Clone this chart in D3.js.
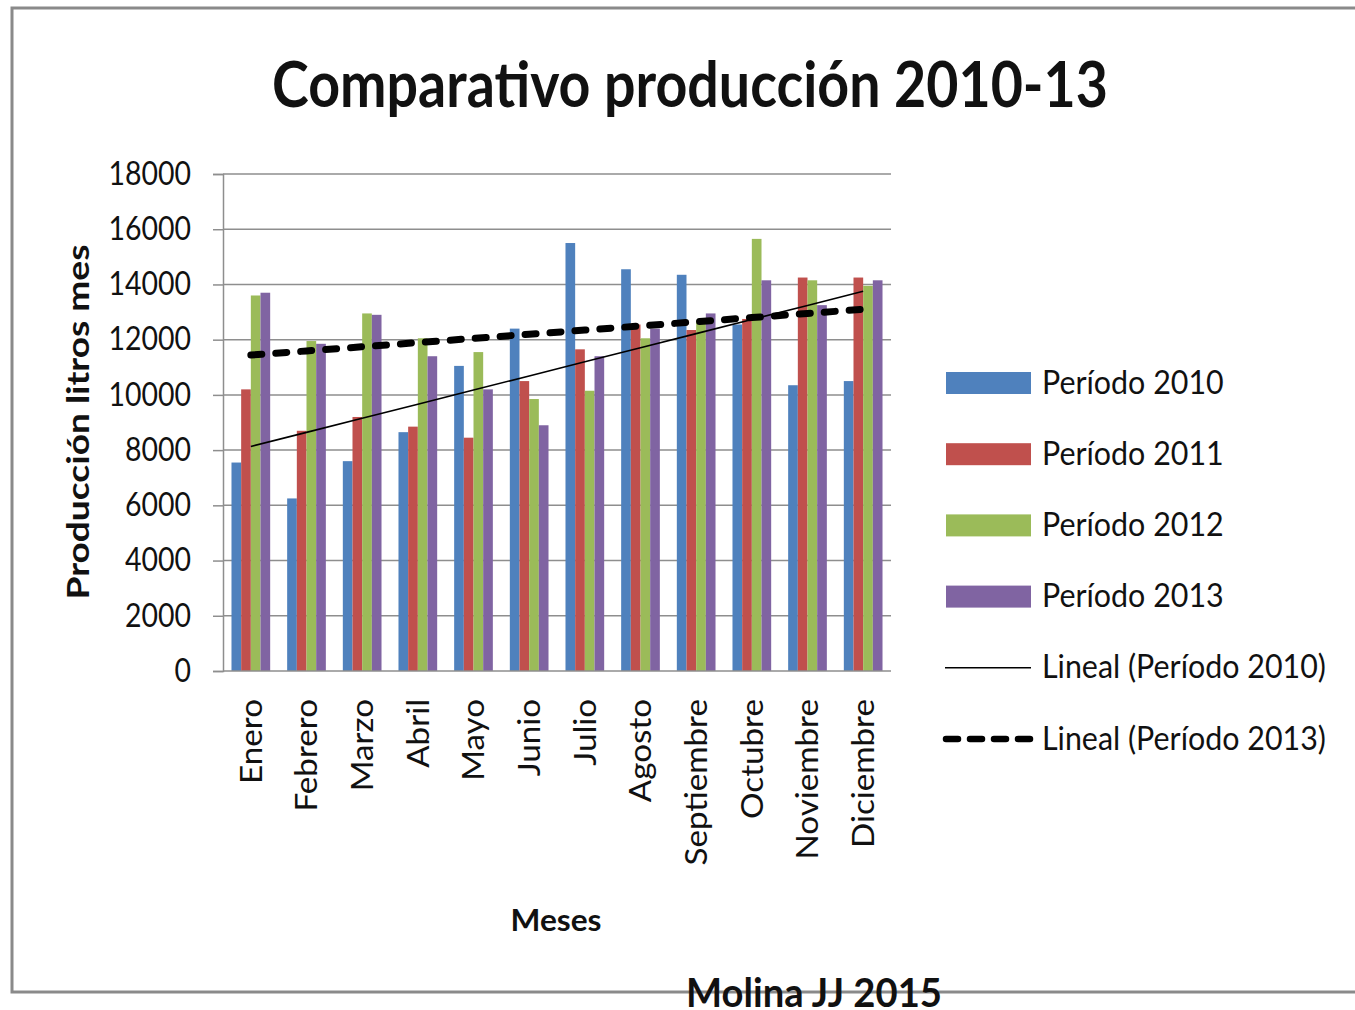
<!DOCTYPE html>
<html lang="es">
<head>
<meta charset="utf-8">
<title>Comparativo producción 2010-13</title>
<script src="https://cdn.jsdelivr.net/npm/d3@7/dist/d3.min.js"></script>
<style>
  html, body { margin: 0; padding: 0; background: #ffffff; }
  svg { display: block; }
  text { font-family: Lato, "Open Sans", "Noto Sans", sans-serif; fill: #111; }
</style>
</head>
<body>
<svg id="chart" width="1355" height="1010"></svg>
<script>
// Monthly production (litres) per period
const months = ["Enero", "Febrero", "Marzo", "Abril", "Mayo", "Junio", "Julio",
                "Agosto", "Septiembre", "Octubre", "Noviembre", "Diciembre"];
const periods = ["Período 2010", "Período 2011", "Período 2012", "Período 2013"];
const p2010 = [7550, 6250, 7600, 8650, 11050, 12400, 15500, 14550, 14350, 12550, 10350, 10500];
const p2011 = [10200, 8700, 9200, 8850, 8450, 10500, 11650, 12550, 12350, 12750, 14250, 14250];
const p2012 = [13600, 11950, 12950, 12050, 11550, 9850, 10150, 12050, 12700, 15650, 14150, 13950];
const p2013 = [13700, 11850, 12900, 11400, 10200, 8900, 11400, 12400, 12950, 14150, 13250, 14150];
const yTicks = [0, 2000, 4000, 6000, 8000, 10000, 12000, 14000, 16000, 18000];
const trendNames = ["Lineal (Período 2010)", "Lineal (Período 2013)"];

const seriesValues = [p2010, p2011, p2012, p2013];
const colors = ["#4F81BD", "#C0504D", "#9BBB59", "#8064A2"];

const svg = d3.select("#chart");

// Squeeze or stretch a text run horizontally around its natural width
function fitWidth(sel, factor) {
  sel.each(function () {
    const w = this.getComputedTextLength();
    this.setAttribute("textLength", w * factor);
    this.setAttribute("lengthAdjust", "spacingAndGlyphs");
  });
}

// Outer frame
svg.append("rect")
  .attr("x", 12).attr("y", 8)
  .attr("width", 1380).attr("height", 984)
  .attr("fill", "none")
  .attr("stroke", "#8a8a8a")
  .attr("stroke-width", 3);

// Title
svg.append("text")
  .attr("x", 690).attr("y", 107)
  .attr("text-anchor", "middle")
  .attr("font-size", 64)
  .attr("font-weight", 700)
  .attr("textLength", 836)
  .attr("lengthAdjust", "spacingAndGlyphs")
  .text("Comparativo producción 2010-13");

// Scales
const plot = { left: 223, right: 891, top: 174, bottom: 671 };
const x = d3.scaleBand()
  .domain(months)
  .range([plot.left, plot.right])
  .paddingInner(0.305)
  .paddingOuter(0.1525);
const xSeries = d3.scaleBand()
  .domain(d3.range(periods.length))
  .range([0, x.bandwidth()]);
const y = d3.scaleLinear().domain([0, 18000]).range([plot.bottom, plot.top]);

// Horizontal gridlines
svg.append("g")
  .selectAll("line")
  .data(yTicks.filter(d => d > 0))
  .join("line")
  .attr("x1", plot.left).attr("x2", plot.right)
  .attr("y1", d => y(d)).attr("y2", d => y(d))
  .attr("stroke", "#8e8e8e")
  .attr("stroke-width", 1.5);

// Bars
const groups = svg.append("g")
  .selectAll("g")
  .data(months)
  .join("g")
  .attr("transform", d => `translate(${x(d)},0)`);

groups.selectAll("rect")
  .data((m, i) => seriesValues.map((s, k) => ({ k, v: s[i] })))
  .join("rect")
  .attr("x", d => xSeries(d.k))
  .attr("width", xSeries.bandwidth())
  .attr("y", d => y(d.v))
  .attr("height", d => y(0) - y(d.v))
  .attr("fill", d => colors[d.k]);

// Y axis
const yAxis = svg.append("g")
  .attr("transform", `translate(${plot.left},0)`)
  .call(d3.axisLeft(y).tickValues(yTicks).tickSize(10).tickPadding(22).tickFormat(d3.format("d")));
yAxis.select(".domain").attr("stroke", "#8e8e8e").attr("stroke-width", 1.5);
yAxis.selectAll(".tick line").attr("stroke", "#8e8e8e").attr("stroke-width", 1.5);
yAxis.selectAll(".tick text")
  .attr("font-size", 32)
  .attr("font-family", "Lato, sans-serif")
  .attr("fill", "#111");
fitWidth(yAxis.selectAll(".tick text"), 0.89);

// X axis line
svg.append("line")
  .attr("x1", plot.left).attr("x2", plot.right)
  .attr("y1", y(0)).attr("y2", y(0))
  .attr("stroke", "#8e8e8e")
  .attr("stroke-width", 1.5);

// Month labels, rotated
const xLabels = svg.append("g")
  .selectAll("text")
  .data(months)
  .join("text")
  .attr("transform", d => `translate(${x(d) + x.bandwidth() / 2},699) rotate(-90)`)
  .attr("text-anchor", "end")
  .attr("dy", "0.35em")
  .attr("font-size", 31)
  .text(d => d);
fitWidth(xLabels, 1.07);

// Linear trend lines (least squares over month index)
function linearFit(values) {
  const xs = values.map((_, i) => i + 1);
  const mx = d3.mean(xs), my = d3.mean(values);
  const sxy = d3.sum(xs, (xi, i) => (xi - mx) * (values[i] - my));
  const sxx = d3.sum(xs, xi => (xi - mx) ** 2);
  const slope = sxy / sxx;
  return xs.map(xi => my + slope * (xi - mx));
}
const cx = m => x(m) + x.bandwidth() / 2;
const line = d3.line().x((d, i) => cx(months[i])).y(d => y(d));

svg.append("path")
  .datum(linearFit(p2010))
  .attr("d", line)
  .attr("fill", "none")
  .attr("stroke", "#000")
  .attr("stroke-width", 1.6);

svg.append("path")
  .datum(linearFit(p2013))
  .attr("d", line)
  .attr("fill", "none")
  .attr("stroke", "#000")
  .attr("stroke-width", 7)
  .attr("stroke-linecap", "round")
  .attr("stroke-dasharray", "11,14");

// Axis titles
svg.append("text")
  .attr("transform", "translate(89,422) rotate(-90)")
  .attr("text-anchor", "middle")
  .attr("font-size", 31)
  .attr("font-weight", 700)
  .attr("textLength", 355)
  .attr("lengthAdjust", "spacingAndGlyphs")
  .text("Producción litros mes");

svg.append("text")
  .attr("x", 556).attr("y", 931)
  .attr("text-anchor", "middle")
  .attr("font-size", 31)
  .attr("font-weight", 700)
  .attr("textLength", 91)
  .attr("lengthAdjust", "spacingAndGlyphs")
  .text("Meses");

// Legend
const legendRowY = d3.range(6).map(i => 383 + i * 71.2);
const legend = svg.append("g");
periods.forEach((name, i) => {
  legend.append("rect")
    .attr("x", 946).attr("y", legendRowY[i] - 11)
    .attr("width", 85).attr("height", 22)
    .attr("fill", colors[i]);
});
legend.append("line")
  .attr("x1", 945).attr("x2", 1031)
  .attr("y1", legendRowY[4]).attr("y2", legendRowY[4])
  .attr("stroke", "#000").attr("stroke-width", 1.6);
legend.append("line")
  .attr("x1", 946).attr("x2", 1030)
  .attr("y1", legendRowY[5]).attr("y2", legendRowY[5])
  .attr("stroke", "#000").attr("stroke-width", 6.5)
  .attr("stroke-linecap", "round")
  .attr("stroke-dasharray", "12,12");
const legendTexts = legend.selectAll("text")
  .data(periods.concat(trendNames))
  .join("text")
  .attr("x", 1042)
  .attr("y", (d, i) => legendRowY[i] + 10.5)
  .attr("font-size", 32)
  .text(d => d);
fitWidth(legendTexts, 0.95);

// Author credit
svg.append("text")
  .attr("x", 814).attr("y", 1007)
  .attr("text-anchor", "middle")
  .attr("font-size", 40)
  .attr("font-weight", 700)
  .attr("textLength", 256)
  .attr("lengthAdjust", "spacingAndGlyphs")
  .text("Molina JJ 2015");
</script>
</body>
</html>
